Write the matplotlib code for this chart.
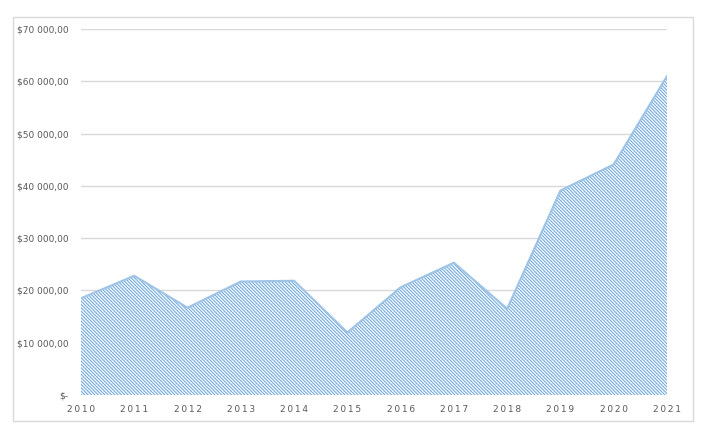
import numpy as np
import matplotlib.pyplot as plt
from matplotlib.patches import Rectangle
from matplotlib.ticker import FuncFormatter

years = [2010, 2011, 2012, 2013, 2014, 2015, 2016, 2017, 2018, 2019, 2020, 2021]
values = [18500, 22800, 16700, 21700, 21850, 11950, 20600, 25300, 16500, 39100, 44100, 61000]
yticks = [0, 10000, 20000, 30000, 40000, 50000, 60000, 70000]

plt.rcParams['hatch.color'] = '#5b9bd5'
plt.rcParams['hatch.linewidth'] = 0.6

W, H = 702, 433
fig = plt.figure(figsize=(W / 100, H / 100), dpi=100)
ax = fig.add_axes([81 / W, 1 - 395 / H, (667 - 81) / W, (395 - 29) / H])

# chart border
fig.patches.append(Rectangle((13 / W, 1 - 421 / H), (693 - 13) / W, (421 - 17) / H,
                             transform=fig.transFigure, fill=False,
                             edgecolor='#d9d9d9', linewidth=1.0))

ax.fill_between(years, values, 0, facecolor='#f2f7fc', hatch='\\' * 10,
                edgecolor='#5b9bd5', linewidth=0, zorder=2)
ax.plot(years, values, color='#9dc3e6', linewidth=1.5, zorder=3)

ax.set_xlim(2010, 2021)
ax.set_ylim(0, 70000)
ax.set_xticks(years)
ax.set_xticklabels(['\u2009'.join(str(y)) for y in years])
ax.set_yticks(yticks)

def money(v, pos):
    if v == 0:
        return '$-'
    s = f'{int(v):,}'.replace(',', ' ')
    return f'${s},00'

ax.yaxis.set_major_formatter(FuncFormatter(money))
ax.grid(axis='y', color='#d9d9d9', linewidth=1.0, zorder=0)
ax.set_axisbelow(True)
for sp in ax.spines.values():
    sp.set_visible(False)
ax.tick_params(axis='both', length=0, colors='#595959')
ax.tick_params(axis='y', labelsize=6.5, pad=9)
ax.tick_params(axis='x', labelsize=6.5, pad=7)

fig.savefig('out.png', dpi=100)
